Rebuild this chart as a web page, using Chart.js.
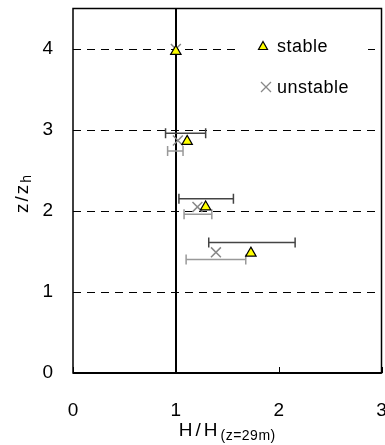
<!DOCTYPE html>
<html>
<head>
<meta charset="utf-8">
<script src="https://cdn.jsdelivr.net/npm/chart.js@4"></script>
<style>
  body { margin: 0; background: #fff; overflow: hidden; }
  #wrap { position: relative; width: 390px; height: 445px; }
</style>
</head>
<body>
<div id="wrap"><canvas id="grafico"></canvas></div>
<script>
// valores
const xTicks = [0, 1, 2, 3];
const yTicks = [0, 1, 2, 3, 4];

const stableX = [1.00, 1.11, 1.29, 1.73];
const stableY = [3.97, 2.86, 2.05, 1.48];
const stableLo = [null, 0.90, 1.03, 1.32];
const stableHi = [null, 1.29, 1.56, 2.16];
const stableBarY = [null, 2.96, 2.15, 1.61];

const unstableX = [1.00, 1.02, 1.21, 1.39];
const unstableY = [4.00, 2.87, 2.05, 1.49];
const unstableLo = [null, 0.92, 1.08, 1.10];
const unstableHi = [null, 1.07, 1.35, 1.68];
const unstableBarY = [null, 2.74, 1.96, 1.40];

const legendLabels = ["stable", "unstable"];
const FONT = "'Liberation Sans', Arial, sans-serif";

function barras(lo, hi, ys, cor) {
  const out = [];
  ys.forEach((y, i) => {
    if (y === null) return;
    out.push({
      type: "scatter",
      data: [{ x: lo[i], y: y }, { x: hi[i], y: y }],
      showLine: true,
      borderColor: cor,
      borderWidth: 1.5,
      pointStyle: "line",
      rotation: 90,
      pointRadius: 5,
      pointBorderColor: cor,
      pointBorderWidth: 1.5
    });
  });
  return out;
}

const datasets = [
  {
    label: legendLabels[0],
    data: stableX.map((x, i) => ({ x: x, y: stableY[i] })),
    pointStyle: "triangle",
    pointRadius: 6,
    backgroundColor: "#ffff00",
    borderColor: "#000",
    borderWidth: 1.2
  },
  {
    label: legendLabels[1],
    data: unstableX.map((x, i) => ({ x: x, y: unstableY[i] })),
    pointStyle: "crossRot",
    pointRadius: 7,
    borderColor: "#888",
    borderWidth: 1.5
  },
  ...barras(stableLo, stableHi, stableBarY, "#444"),
  ...barras(unstableLo, unstableHi, unstableBarY, "#999")
];

const moldura = {
  id: "moldura",
  beforeDatasetsDraw(chart) {
    const { ctx, chartArea: a, scales } = chart;
    ctx.save();
    ctx.strokeStyle = "#000";
    ctx.lineWidth = 1.5;
    ctx.strokeRect(a.left, a.top, a.right - a.left, a.bottom - a.top);
    ctx.lineWidth = 2;
    ctx.beginPath();
    ctx.moveTo(a.left, a.bottom);
    ctx.lineTo(a.right, a.bottom);
    ctx.stroke();
    // marcas internas no eixo x
    ctx.lineWidth = 1;
    xTicks.forEach(v => {
      const px = Math.round(scales.x.getPixelForValue(v)) + 0.5;
      ctx.beginPath();
      ctx.moveTo(px, a.bottom);
      ctx.lineTo(px, a.bottom - 6);
      ctx.stroke();
    });
    ctx.restore();
  },
  afterDraw(chart) {
    const { ctx, chartArea: a } = chart;
    ctx.save();
    // legenda
    ctx.fillStyle = "#fff";
    ctx.fillRect(240, 30, 128, 72);
    ctx.fillStyle = "#000";
    ctx.font = "18px " + FONT;
    ctx.letterSpacing = "0.5px";
    ctx.textBaseline = "alphabetic";
    ctx.textAlign = "left";
    const tx = 263, ty = 46;
    ctx.beginPath();
    ctx.moveTo(tx, ty - 4.5);
    ctx.lineTo(tx + 4.5, ty + 3.5);
    ctx.lineTo(tx - 4.5, ty + 3.5);
    ctx.closePath();
    ctx.fillStyle = "#ffff00";
    ctx.fill();
    ctx.strokeStyle = "#000";
    ctx.lineWidth = 1.2;
    ctx.stroke();
    ctx.fillStyle = "#000";
    ctx.fillText(legendLabels[0], 277, 52);
    const ux = 266, uy = 87;
    ctx.strokeStyle = "#888";
    ctx.lineWidth = 1.3;
    ctx.beginPath();
    ctx.moveTo(ux - 5, uy - 5); ctx.lineTo(ux + 5, uy + 5);
    ctx.moveTo(ux + 5, uy - 5); ctx.lineTo(ux - 5, uy + 5);
    ctx.stroke();
    ctx.fillText(legendLabels[1], 277, 93);

    // titulo do eixo x
    const cx = (a.left + a.right) / 2;
    ctx.font = "19px " + FONT;
    ctx.letterSpacing = "3px";
    const w1 = ctx.measureText("H/H").width;
    ctx.font = "14px " + FONT;
    ctx.letterSpacing = "0.5px";
    const w2 = ctx.measureText("(z=29m)").width;
    const x0 = cx - (w1 + w2) / 2;
    ctx.font = "19px " + FONT;
    ctx.letterSpacing = "3px";
    ctx.fillText("H/H", x0, 436);
    ctx.font = "14px " + FONT;
    ctx.letterSpacing = "0.5px";
    ctx.fillText("(z=29m)", x0 + w1, 440);

    // titulo do eixo y
    ctx.translate(22, 193);
    ctx.rotate(-Math.PI / 2);
    ctx.font = "19px " + FONT;
    ctx.letterSpacing = "2px";
    const v1 = ctx.measureText("z/z").width;
    ctx.font = "14px " + FONT;
    const v2 = ctx.measureText("h").width;
    ctx.font = "19px " + FONT;
    ctx.fillText("z/z", -(v1 + v2) / 2, 6);
    ctx.font = "14px " + FONT;
    ctx.fillText("h", -(v1 + v2) / 2 + v1, 9);
    ctx.restore();
  }
};

new Chart(document.getElementById("grafico"), {
  type: "scatter",
  data: { datasets: datasets },
  options: {
    responsive: true,
    maintainAspectRatio: false,
    animation: false,
    layout: { padding: { top: 8, right: 3, left: 0, bottom: 0 } },
    plugins: { legend: { display: false }, tooltip: { enabled: false } },
    scales: {
      x: {
        type: "linear",
        min: 0,
        max: 3,
        afterBuildTicks: s => { s.ticks = xTicks.map(v => ({ value: v })); },
        afterFit: s => { s.height = 72; s.paddingLeft = 0; s.paddingRight = 0; },
        ticks: { color: "#000", font: { size: 19, family: FONT }, padding: 26, maxRotation: 0 },
        grid: {
          drawTicks: false,
          color: c => (c.tick && c.tick.value === 1 ? "#000" : "rgba(0,0,0,0)"),
          lineWidth: 2
        },
        border: { display: false }
      },
      y: {
        type: "linear",
        min: 0,
        max: 4.5,
        afterBuildTicks: s => { s.ticks = yTicks.map(v => ({ value: v })); },
        afterFit: s => { s.width = 73; s.paddingTop = 0; s.paddingBottom = 0; },
        ticks: { color: "#000", font: { size: 19, family: FONT }, padding: 20 },
        grid: {
          drawTicks: false,
          color: c => (c.tick && c.tick.value === 0 ? "rgba(0,0,0,0)" : "#000"),
          lineWidth: 1
        },
        border: { display: false, dash: [8, 6] }
      }
    }
  },
  plugins: [moldura]
});
</script>
</body>
</html>
